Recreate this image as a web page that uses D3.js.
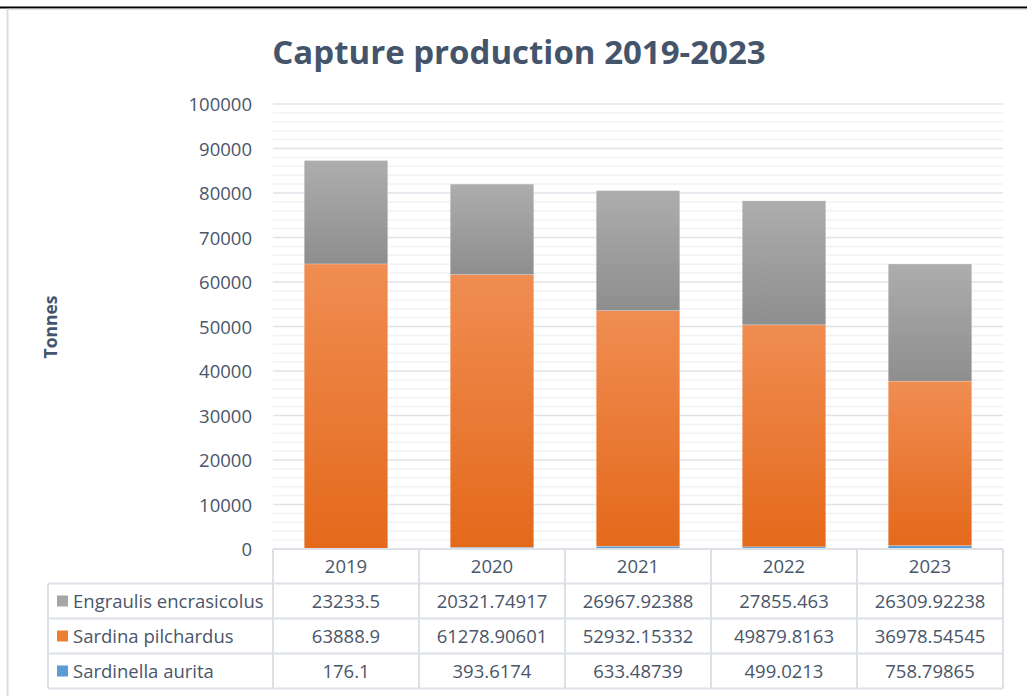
<!DOCTYPE html>
<html><head><meta charset="utf-8">
<script src="https://cdn.jsdelivr.net/npm/d3@7"></script>
<style>body{margin:0;background:#fff}svg{display:block}</style>
</head><body><svg id="c" width="1027" height="696"></svg>
<script>
// ---- data ----
const years = ["2019", "2020", "2021", "2022", "2023"];
const sardinellaAurita = [176.1, 393.6174, 633.48739, 499.0213, 758.79865];
const sardinaPilchardus = [63888.9, 61278.90601, 52932.15332, 49879.8163, 36978.54545];
const engraulisEncrasicolus = [23233.5, 20321.74917, 26967.92388, 27855.463, 26309.92238];
const seriesNames = ["Sardinella aurita", "Sardina pilchardus", "Engraulis encrasicolus"];
const yTicks = [0, 10000, 20000, 30000, 40000, 50000, 60000, 70000, 80000, 90000, 100000];
const titleText = "Capture production 2019-2023";
const yAxisTitle = "Tonnes";

// ---- build ----
const series = [
  {name: seriesNames[0], values: sardinellaAurita, grad: ["#6aa8e0", "#4a8ccf"], key: "blue"},
  {name: seriesNames[1], values: sardinaPilchardus, grad: ["#f08d52", "#e4691b"], key: "orange"},
  {name: seriesNames[2], values: engraulisEncrasicolus, grad: ["#adadad", "#8e8e8e"], key: "gray"}
];
const legendSwatch = {blue: "#5b9bd5", orange: "#ed7d31", gray: "#a5a5a5"};

const svg = d3.select("#c");
const FONT = "'Open Sans', 'Noto Sans', sans-serif";
const TXT = "#4a5669";
const FS = 18.5;

// frame
svg.append("line").attr("x1", 0).attr("x2", 1027).attr("y1", 7.5).attr("y2", 7.5).attr("stroke", "#000").attr("stroke-width", 2);
svg.append("line").attr("x1", 7).attr("x2", 1027).attr("y1", 9.5).attr("y2", 9.5).attr("stroke", "#e3e6eb").attr("stroke-width", 1.5);
svg.append("line").attr("x1", 7.5).attr("x2", 7.5).attr("y1", 9).attr("y2", 696).attr("stroke", "#d9dde4").attr("stroke-width", 2);

const x = d3.scaleBand().domain(years).range([273, 1003]).paddingInner(0.428).paddingOuter(0.214);
const y = d3.scaleLinear().domain([0, 100000]).range([549, 104]);

// gradients
const defs = svg.append("defs");
series.forEach(s => {
  const g = defs.append("linearGradient").attr("id", "g-" + s.key).attr("x1", 0).attr("x2", 0).attr("y1", 0).attr("y2", 1);
  g.append("stop").attr("offset", "0%").attr("stop-color", s.grad[0]);
  g.append("stop").attr("offset", "100%").attr("stop-color", s.grad[1]);
});

// gridlines
const minor = d3.range(0, 100001, 2000).filter(v => v % 10000 !== 0);
svg.append("g").selectAll("line").data(minor).join("line")
  .attr("x1", 273).attr("x2", 1003).attr("y1", d => y(d)).attr("y2", d => y(d))
  .attr("stroke", "#f0f2f5").attr("stroke-width", 1.5);
svg.append("g").selectAll("line").data(yTicks).join("line")
  .attr("x1", 273).attr("x2", 1003).attr("y1", d => y(d)).attr("y2", d => y(d))
  .attr("stroke", "#dfe3ea").attr("stroke-width", 1.5);

// stacked bars
const rows = years.map((yr, i) => {
  const o = {year: yr};
  series.forEach(s => o[s.name] = s.values[i]);
  return o;
});
const stack = d3.stack().keys(seriesNames)(rows);
stack.forEach((layer, li) => {
  const s = series[li];
  svg.append("g").selectAll("rect").data(layer).join("rect")
    .attr("x", d => x(d.data.year))
    .attr("width", x.bandwidth())
    .attr("y", d => y(d[1]))
    .attr("height", d => y(d[0]) - y(d[1]))
    .attr("fill", `url(#g-${s.key})`)
    .attr("stroke", "rgba(255,255,255,0.35)").attr("stroke-width", 0.6);
});

// y axis
const yAxis = d3.axisLeft(y).tickValues(yTicks).tickSize(0).tickPadding(0).tickFormat(d3.format("d"));
const ag = svg.append("g").attr("transform", "translate(252,0)").call(yAxis);
ag.select(".domain").remove();
ag.selectAll("text").attr("font-family", FONT).attr("font-size", FS).attr("fill", TXT).attr("dy", "0.36em");

// title
svg.append("text").attr("x", 519).attr("y", 64).attr("text-anchor", "middle")
  .attr("font-family", FONT).attr("font-size", 33).attr("font-weight", "bold").attr("fill", "#44546a")
  .text(titleText);

// y axis title
svg.append("text").attr("transform", "translate(57,327) rotate(-90)").attr("text-anchor", "middle")
  .attr("font-family", FONT).attr("font-size", 17.5).attr("font-weight", "bold").attr("fill", "#44546a")
  .text(yAxisTitle);

// data table
const step = x.step();
const x0 = x.range()[0];
const colEdges = d3.range(0, years.length + 1).map(i => x0 + i * step);
const rowEdges = [549, 583.5, 618.5, 653.5, 688.5];
const tableLeft = 48;
const tb = svg.append("g");
const BORDER = "#dce0e7";
tb.append("line").attr("x1", x0).attr("x2", colEdges[5]).attr("y1", rowEdges[0]).attr("y2", rowEdges[0]).attr("stroke", BORDER).attr("stroke-width", 2);
rowEdges.slice(1).forEach(ry => {
  tb.append("line").attr("x1", tableLeft).attr("x2", colEdges[5]).attr("y1", ry).attr("y2", ry).attr("stroke", BORDER).attr("stroke-width", 2);
});
colEdges.forEach(cx => {
  tb.append("line").attr("x1", cx).attr("x2", cx).attr("y1", rowEdges[0]).attr("y2", rowEdges[4]).attr("stroke", BORDER).attr("stroke-width", 2);
});
tb.append("line").attr("x1", tableLeft).attr("x2", tableLeft).attr("y1", rowEdges[1]).attr("y2", rowEdges[4]).attr("stroke", BORDER).attr("stroke-width", 2);

// header
tb.selectAll("text.hdr").data(years).join("text").attr("class", "hdr")
  .attr("x", d => x(d) + x.bandwidth() / 2).attr("y", (rowEdges[0] + rowEdges[1]) / 2).attr("dy", "0.36em")
  .attr("text-anchor", "middle").attr("font-family", FONT).attr("font-size", FS).attr("fill", TXT).text(d => d);

// rows (reverse of stack order)
const tableSeries = series.slice().reverse();
tableSeries.forEach((s, ri) => {
  const cy = (rowEdges[ri + 1] + rowEdges[ri + 2]) / 2;
  tb.append("rect").attr("x", 57).attr("y", cy - 5.5).attr("width", 11).attr("height", 11).attr("fill", legendSwatch[s.key]);
  tb.append("text").attr("x", 73).attr("y", cy).attr("dy", "0.36em")
    .attr("font-family", FONT).attr("font-size", FS).attr("fill", TXT).text(s.name);
  tb.selectAll(null).data(s.values).join("text")
    .attr("x", (d, i) => x(years[i]) + x.bandwidth() / 2).attr("y", cy).attr("dy", "0.36em")
    .attr("text-anchor", "middle").attr("font-family", FONT).attr("font-size", FS).attr("fill", TXT)
    .text(d => String(d));
});
</script></body></html>
